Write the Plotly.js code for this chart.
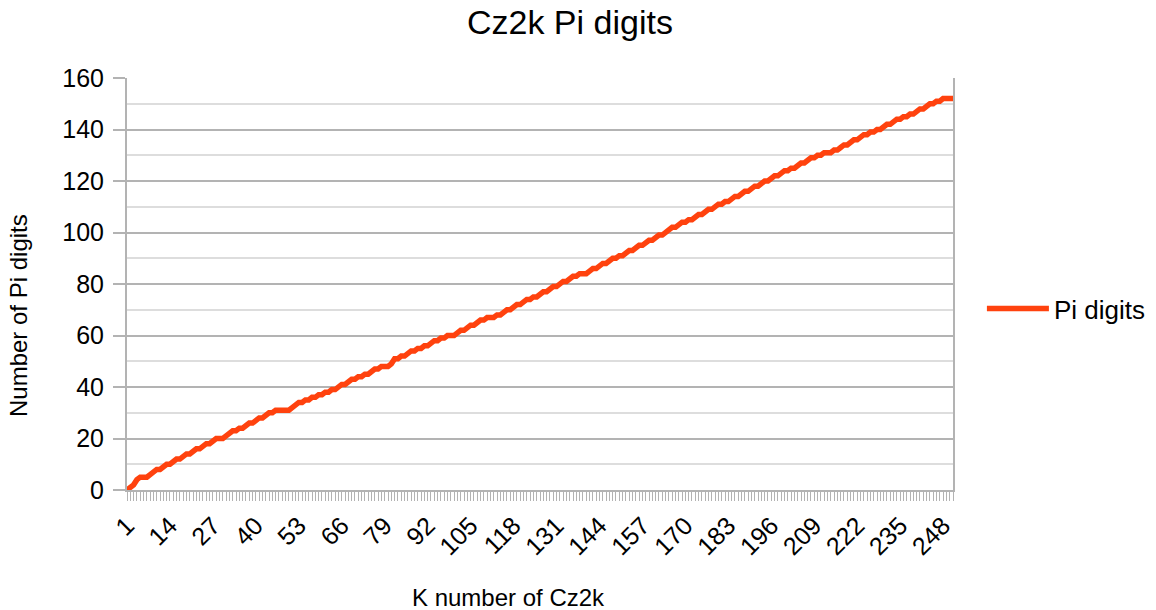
<!DOCTYPE html>
<html>
<head>
<meta charset="utf-8">
<script src="https://cdn.plot.ly/plotly-3.0.1.min.js"></script>
<style>
html,body{margin:0;padding:0;background:#fff;}
#chart{width:1156px;height:610px;}
</style>
</head>
<body>
<div id="chart"></div>
<script>
// K number of Cz2k (categories 1..251)
const kValues = [];
for (let k = 1; k <= 251; k++) kValues.push(k);

// Number of Pi digits
const piDigits = [
  0,1,2,4,5,5,5,6,7,8,
  8,9,10,10,11,12,12,13,14,14,
  15,16,16,17,18,18,19,20,20,20,
  21,22,23,23,24,24,25,26,26,27,
  28,28,29,30,30,31,31,31,31,31,
  32,33,34,34,35,35,36,36,37,37,
  38,38,39,39,40,41,41,42,43,43,
  44,44,45,45,46,47,47,48,48,48,
  49,51,51,52,52,53,54,54,55,55,
  56,56,57,58,58,59,59,60,60,60,
  61,62,62,63,64,64,65,66,66,67,
  67,67,68,68,69,70,70,71,72,72,
  73,74,74,75,75,76,77,77,78,79,
  79,80,81,81,82,83,83,84,84,84,
  85,86,86,87,88,88,89,90,90,91,
  91,92,93,93,94,95,95,96,97,97,
  98,99,99,100,101,102,102,103,104,104,
  105,105,106,107,107,108,109,109,110,111,
  111,112,112,113,114,114,115,116,116,117,
  118,118,119,120,120,121,122,122,123,124,
  124,125,125,126,127,127,128,129,129,130,
  130,131,131,131,132,132,133,134,134,135,
  136,136,137,138,138,139,139,140,140,141,
  142,142,143,144,144,145,145,146,146,147,
  148,148,149,150,150,151,151,152,152,152,
  152
];

const xTickVals = [1,14,27,40,53,66,79,92,105,118,131,144,157,170,183,196,209,222,235,248];
const xTickText = xTickVals.map(String);
const yTickVals = [0,20,40,60,80,100,120,140,160];

const FONT = "Liberation Sans, Arial, sans-serif";

const trace = {
  x: kValues,
  y: piDigits,
  type: 'scatter',
  mode: 'lines',
  name: 'Pi digits',
  line: {color: '#ff420e', width: 5.5}
};

const layout = {
  width: 1156,
  height: 610,
  paper_bgcolor: '#ffffff',
  plot_bgcolor: '#ffffff',
  margin: {l: 127, r: 203, t: 78, b: 120, autoexpand: false},
  font: {family: FONT, color: '#000000'},
  title: {
    text: 'Cz2k Pi digits',
    font: {family: FONT, size: 34, color: '#000000'},
    x: 0.493, xref: 'container', xanchor: 'center',
    y: 0.963, yref: 'container', yanchor: 'middle'
  },
  xaxis: {
    range: [1, 251],
    tickmode: 'array',
    tickvals: xTickVals,
    ticktext: xTickText,
    tickangle: -45,
    tickfont: {family: FONT, size: 25, color: '#000000'},
    ticks: 'outside',
    ticklen: 9,
    tickwidth: 1,
    tickcolor: '#b3b3b3',
    minor: {dtick: 1, tick0: 1, ticks: 'outside', ticklen: 9, tickwidth: 1, tickcolor: '#b3b3b3', showgrid: false},
    showgrid: false,
    showline: true,
    linecolor: '#b3b3b3',
    linewidth: 2,
    mirror: false,
    zeroline: false,
    automargin: false,
    fixedrange: true
  },
  yaxis: {
    range: [0, 160],
    tickmode: 'array',
    tickvals: yTickVals,
    tickfont: {family: FONT, size: 25, color: '#000000'},
    ticks: 'outside',
    ticklen: 12,
    tickwidth: 2,
    tickcolor: '#b3b3b3',
    ticklabelstandoff: 4,
    showgrid: true,
    gridcolor: '#b3b3b3',
    gridwidth: 2,
    minor: {dtick: 10, tick0: 0, showgrid: true, gridcolor: '#dddddd', gridwidth: 2, ticks: ''},
    showline: true,
    linecolor: '#b3b3b3',
    linewidth: 2,
    mirror: true,
    zeroline: false,
    automargin: false,
    fixedrange: true
  },
  showlegend: true,
  legend: {
    x: 1.035, xanchor: 'left',
    y: 0.44, yanchor: 'middle',
    itemwidth: 62,
    font: {family: FONT, size: 26, color: '#000000'},
    bgcolor: 'rgba(0,0,0,0)',
    borderwidth: 0
  },
  annotations: [{
    text: 'K number of Cz2k',
    xref: 'paper', yref: 'paper',
    x: (508 - 127) / 826, y: (490 - 597) / 412,
    xanchor: 'center', yanchor: 'middle',
    showarrow: false,
    font: {family: FONT, size: 24, color: '#000000'}
  }, {
    text: 'Number of Pi digits',
    xref: 'paper', yref: 'paper',
    x: (18 - 127) / 826, y: (490 - 316) / 412,
    xanchor: 'center', yanchor: 'middle',
    textangle: -90,
    showarrow: false,
    font: {family: FONT, size: 24, color: '#000000'}
  }]
};

Plotly.newPlot('chart', [trace], layout, {displayModeBar: false, staticPlot: true});
</script>
</body>
</html>
